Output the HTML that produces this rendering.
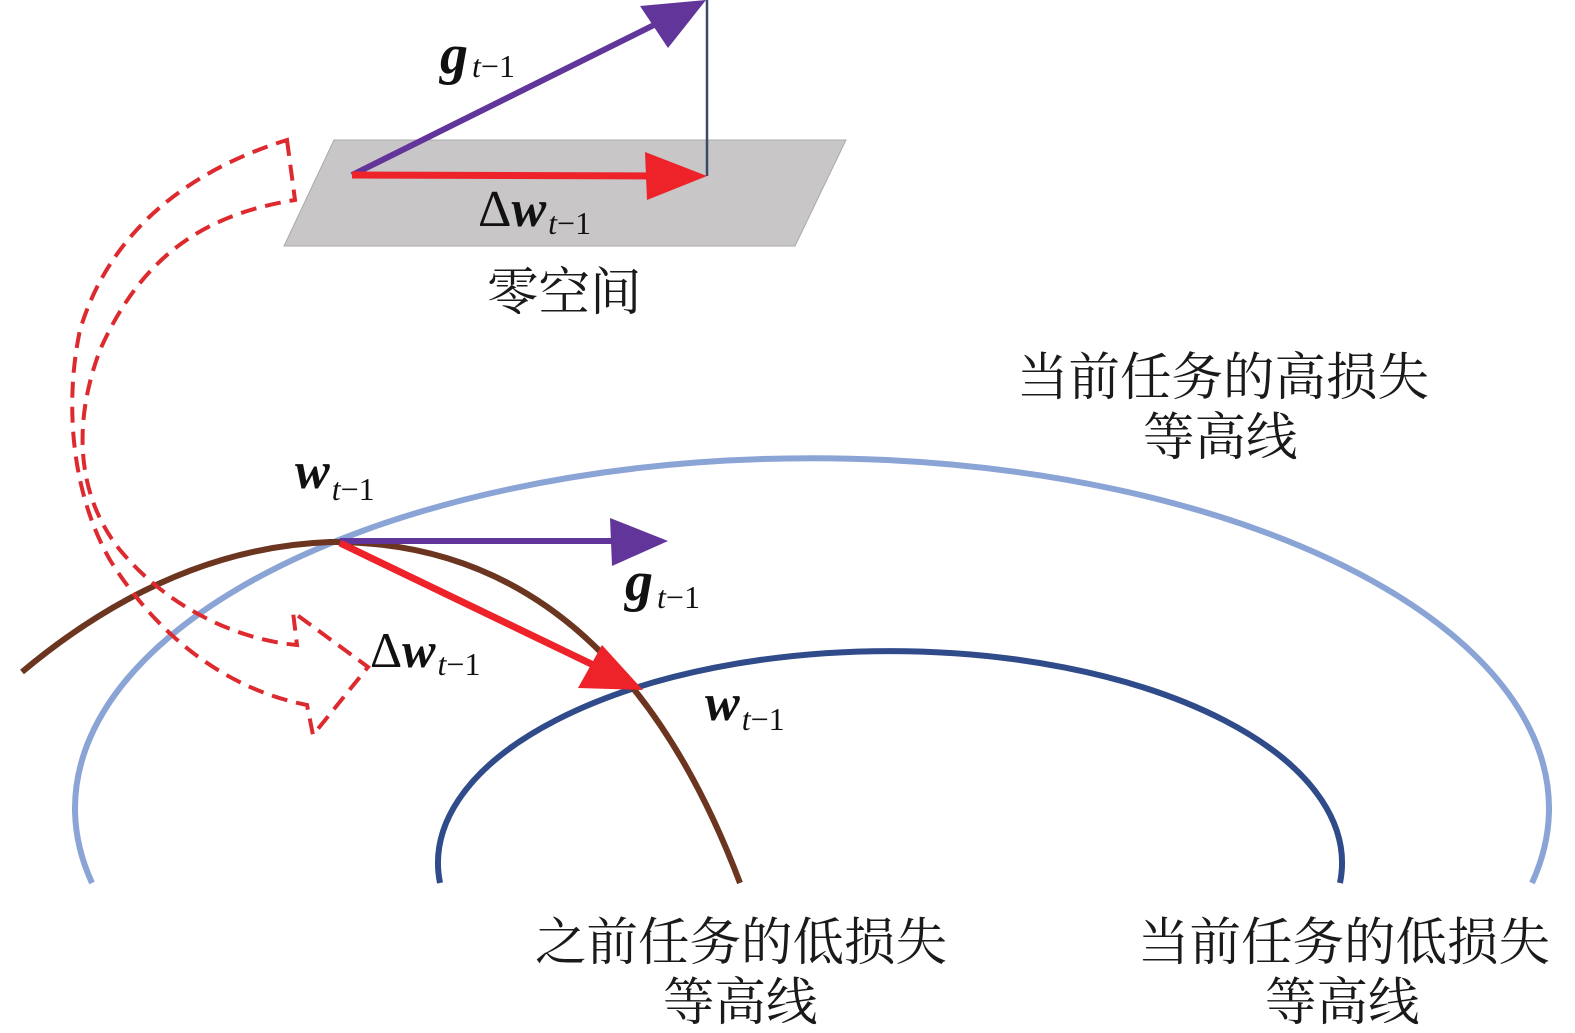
<!DOCTYPE html>
<html><head><meta charset="utf-8"><style>
html,body{margin:0;padding:0;background:#fff}
svg{display:block}
.m{font-family:"Liberation Serif",serif;font-weight:bold;font-style:italic;fill:#111}
.s{font-family:"Liberation Serif",serif;font-style:italic;font-weight:normal;fill:#111}
.n{font-family:"Liberation Serif",serif;font-style:normal;font-weight:normal}
.c{font-family:"Liberation Serif","Noto Serif CJK SC",serif;fill:#1a1a1a;font-size:51.5px}
</style></head><body>
<svg width="1575" height="1033" viewBox="0 0 1575 1033" xmlns="http://www.w3.org/2000/svg">
<polygon points="334,140 846,140 795,246 284,246" fill="#c8c6c7" stroke="#aaa" stroke-width="1"/>
<line x1="707" y1="0" x2="707" y2="176" stroke="#3c4a66" stroke-width="2.5"/>
<line x1="352" y1="175" x2="660" y2="22" stroke="#62359a" stroke-width="6"/>
<polygon points="706,0 640,6 668,48" fill="#62359a"/>
<line x1="352" y1="175" x2="660" y2="176" stroke="#ee2229" stroke-width="7"/>
<polygon points="707,176 645,152 647,200" fill="#ee2229"/>

<path d="M92 883 A737 350 0 1 1 1532 883" fill="none" stroke="#8aa4d6" stroke-width="6"/>
<path d="M440 883 A452 212 0 1 1 1340 883" fill="none" stroke="#2f4b8a" stroke-width="6"/>
<path d="M22 672 Q170 548 330 542 Q610 540 740 883" fill="none" stroke="#6b3520" stroke-width="6"/>

<path d="M287 140 L295 200 C200 215 140 260 100 350 C70 430 80 500 120 550 C170 610 240 640 297 645 L293 612 L368 667 L313 735 L307 705 C230 690 160 640 110 560 C70 490 65 400 80 330 C110 230 190 170 287 140 Z" fill="none" stroke="#dd2a2f" stroke-width="4" stroke-dasharray="16,9"/>

<line x1="340" y1="541" x2="620" y2="541" stroke="#62359a" stroke-width="6"/>
<polygon points="668,541 610,518 612,566" fill="#62359a"/>
<line x1="340" y1="543" x2="610" y2="673" stroke="#ee2229" stroke-width="7"/>
<polygon points="643,690 578,688 602,645" fill="#ee2229"/>

<text x="440" y="73" class="m" font-size="56">g<tspan class="s" font-size="32" dx="4" dy="4">t</tspan><tspan class="s n" font-size="32">−1</tspan></text>
<text x="478" y="226" class="m" font-size="52"><tspan class="n">Δ</tspan>w<tspan class="s" font-size="32" dx="2" dy="8">t</tspan><tspan class="s n" font-size="32">−1</tspan></text>
<text x="487" y="310" class="c">零空间</text>
<text x="295" y="488" class="m" font-size="52">w<tspan class="s" font-size="32" dx="2" dy="12">t</tspan><tspan class="s n" font-size="32">−1</tspan></text>
<text x="625" y="600" class="m" font-size="56">g<tspan class="s" font-size="32" dx="4" dy="8">t</tspan><tspan class="s n" font-size="32">−1</tspan></text>
<text x="370" y="667" class="m" font-size="50"><tspan class="n">Δ</tspan>w<tspan class="s" font-size="32" dx="2" dy="8">t</tspan><tspan class="s n" font-size="32">−1</tspan></text>
<text x="705" y="720" class="m" font-size="52">w<tspan class="s" font-size="32" dx="2" dy="10">t</tspan><tspan class="s n" font-size="32">−1</tspan></text>

<text x="1017" y="395" class="c">当前任务的高损失</text>
<text x="1143" y="455" class="c">等高线</text>
<text x="535" y="960" class="c">之前任务的低损失</text>
<text x="663" y="1020" class="c">等高线</text>
<text x="1138" y="960" class="c">当前任务的低损失</text>
<text x="1265" y="1020" class="c">等高线</text>
</svg>
</body></html>
